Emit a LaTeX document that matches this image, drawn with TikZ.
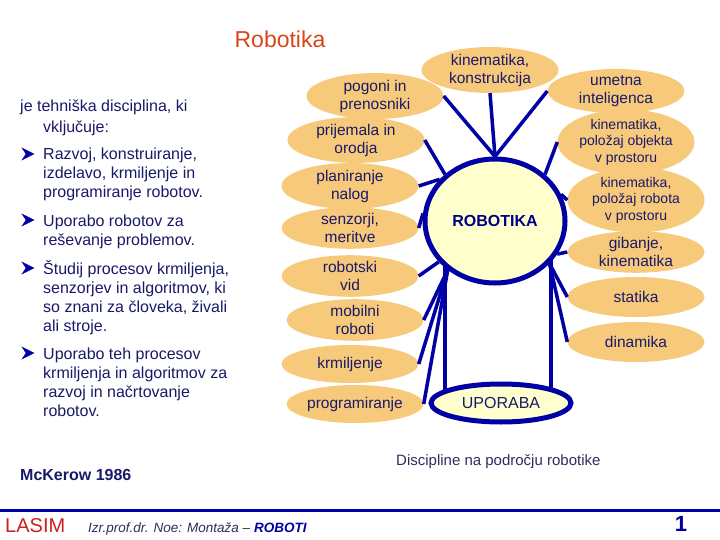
\documentclass[tikz,border=0pt]{standalone}
\usepackage{fontspec}
\setmainfont{Liberation Sans}
\usetikzlibrary{shapes.geometric,backgrounds}
\definecolor{navy}{RGB}{0,0,165}
\definecolor{txt}{RGB}{25,25,105}
\definecolor{orng}{RGB}{247,201,122}
\definecolor{pale}{RGB}{255,255,206}
\definecolor{ttl}{RGB}{215,70,25}
\definecolor{lasim}{RGB}{205,30,30}
\definecolor{foot}{RGB}{45,45,95}
\begin{document}
\begin{tikzpicture}[x=1pt,y=-1pt,
  disc/.style={ellipse, fill=orng, inner sep=0pt, align=center, text=txt,
    minimum width=137pt, minimum height=38pt, font=\fontsize{15.5}{18}\selectfont},
  smalltxt/.style={font=\fontsize{14}{16.5}\selectfont},
  spoke/.style={draw=navy, line width=3.5pt},
  ltext/.style={anchor=base west, inner sep=0pt, text=txt, font=\fontsize{16}{19}\selectfont},
  bulletmark/.style={fill=navy, draw=navy, line width=0.4pt}]
\useasboundingbox (0,0) rectangle (720,540);

% title
\node[text=ttl, font=\fontsize{23}{26}\selectfont, anchor=base, inner sep=0pt] (title) at (280,48) {Robotika};

% left text
\node[ltext] (l1) at (20,112) {je tehniška disciplina, ki};
\node[ltext] (l2) at (43,133) {vključuje:};
\node[ltext] (l3) at (43,160) {Razvoj, konstruiranje,};
\node[ltext] (l4) at (43,179) {izdelavo, krmiljenje in};
\node[ltext] (l5) at (43,198) {programiranje robotov.};
\node[ltext] (l6) at (43,226) {Uporabo robotov za};
\node[ltext] (l7) at (43,245) {reševanje problemov.};
\node[ltext] (l8) at (43,274) {Študij procesov krmiljenja,};
\node[ltext] (l9) at (43,293) {senzorjev in algoritmov, ki};
\node[ltext] (l10) at (43,312) {so znani za človeka, živali};
\node[ltext] (l11) at (43,331) {ali stroje.};
\node[ltext] (l12) at (43,359) {Uporabo teh procesov};
\node[ltext] (l13) at (43,378) {krmiljenja in algoritmov za};
\node[ltext] (l14) at (43,397) {razvoj in načrtovanje};
\node[ltext] (l15) at (43,416) {robotov.};
\foreach \b in {160,226,274,359}{
  \fill[bulletmark] (22,\b-12) -- (34,\b-6) -- (22,\b) -- (26,\b-6) -- cycle;
}

% left discs
\node[disc] (pog) at (375,96) {pogoni in\\prenosniki};
\node[disc] (pri) at (356,140) {prijemala in\\orodja};
\node[disc] (pla) at (350,186) {planiranje\\nalog};
\node[disc] (sen) at (350,228) {senzorji,\\meritve};
\node[disc] (vid) at (350,276) {robotski\\vid};
\node[disc] (mob) at (355,320) {mobilni\\roboti};
\node[disc] (krm) at (350,364) {krmiljenje};
\node[disc] (pro) at (355,404) {programiranje};
% top
\node[disc, minimum height=36pt] (kk) at (490,70) {kinematika,\\konstrukcija};
% right discs
\node[disc] (ume) at (616,91) {umetna\\inteligenca};
\node[disc, smalltxt, minimum height=46pt] (kpo) at (626,142) {kinematika,\\položaj objekta\\v prostoru};
\node[disc, smalltxt, minimum height=52pt] (kpr) at (636,200) {kinematika,\\položaj robota\\v prostoru};
\node[disc, minimum height=40pt] (gib) at (636,252) {gibanje,\\kinematika};
\node[disc, minimum height=40pt] (sta) at (636,297) {statika};
\node[disc, minimum height=40pt] (din) at (636,342) {dinamika};

% centre
\node[ellipse, draw=navy, line width=5pt, fill=pale, minimum width=140pt, minimum height=124pt,
  inner sep=0pt, text=navy!80!black, font=\bfseries\fontsize{16}{18}\selectfont] (rob) at (495,221) {ROBOTIKA};
\node[ellipse, draw=navy, line width=5pt, fill=pale, minimum width=140pt, minimum height=38pt,
  inner sep=0pt, text=txt, font=\fontsize{16}{18}\selectfont] (upo) at (501,403) {UPORABA};

% vertical links (behind)
\begin{pgfonlayer}{background}
\path (rob.center) ++(-50,0) coordinate (vlt);
\path (upo.center) ++(-56,0) coordinate (vlb);
\path (rob.center) ++(56,0) coordinate (vrt);
\path (upo.center) ++(50,0) coordinate (vrb);
\draw[spoke] (vlt) -- (vlb);
\draw[spoke] (vrt) -- (vrb);
\end{pgfonlayer}

% spokes
\draw[spoke] (pog.east) -- (rob.north);
\draw[spoke] (kk.south) -- (rob.north);
\draw[spoke] (ume.west) -- (rob.north);
\draw[spoke] (pri.east) -- (rob.137);
\draw[spoke] (pla.east) -- (rob.143);
\draw[spoke] (sen.east) -- (rob.174);
\draw[spoke] (vid.east) -- (rob.216);
\draw[spoke] (mob.east) -- (rob.226);
\draw[spoke] (krm.east) -- (rob.226);
\draw[spoke] (pro.east) -- (rob.226);
\draw[spoke] (kpo.west) -- (rob.43);
\draw[spoke] (kpr.west) -- (rob.22);
\draw[spoke] (gib.west) -- (rob.-28);
\draw[spoke] (sta.west) -- (rob.-38);
\draw[spoke] (din.west) -- (rob.-38);

% captions
\node[anchor=base west, inner sep=0pt, text=txt, font=\bfseries\fontsize{16}{18}\selectfont] (mck) at (20,480) {McKerow 1986};
\node[anchor=base west, inner sep=0pt, text=foot, font=\fontsize{15}{18}\selectfont] (cap) at (396,465) {Discipline na področju robotike};

% footer
\coordinate (fl) at (0,510);
\coordinate (fr) at (720,510);
\draw[navy, line width=3pt] (fl) -- (fr);
\node[anchor=base west, inner sep=0pt, text=lasim, font=\fontsize{20}{22}\selectfont] (las) at (5,532) {LASIM};
\node[anchor=base west, inner sep=0pt, text=foot, font=\itshape\fontsize{13.5}{16}\selectfont] (auth) at (88,532) {Izr.prof.dr. Noe: Montaža -- \textcolor{navy}{\bfseries ROBOTI}};
\node[anchor=base, inner sep=0pt, text=navy, font=\bfseries\fontsize{22}{24}\selectfont] (pg) at (681,531) {1};
\end{tikzpicture}
\end{document}
